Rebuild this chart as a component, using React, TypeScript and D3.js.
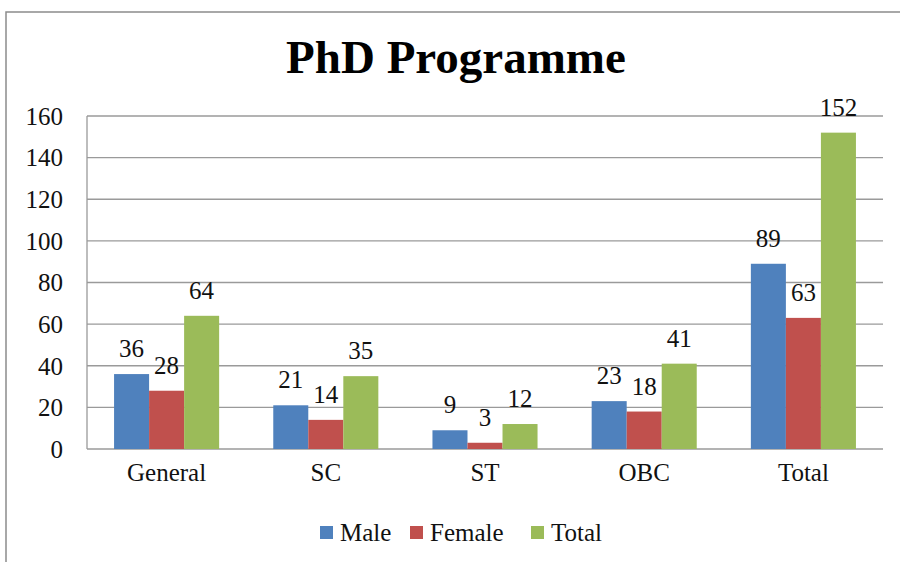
import * as d3 from "d3";

const categories = ["General", "SC", "ST", "OBC", "Total"];
const seriesNames = ["Male", "Female", "Total"];
const maleValues = [36, 21, 9, 23, 89];
const femaleValues = [28, 14, 3, 18, 63];
const totalValues = [64, 35, 12, 41, 152];
const yTicks = [0, 20, 40, 60, 80, 100, 120, 140, 160];
const colors = ["#4F81BD", "#C0504D", "#9BBB59"];

const serif = "'Liberation Serif', 'Times New Roman', serif";

export default function App() {
  const width = 900;
  const height = 562;
  const plot = { left: 87, right: 883, top: 116, bottom: 449 };

  const series = [maleValues, femaleValues, totalValues];

  const x = d3
    .scaleBand<string>()
    .domain(categories)
    .range([plot.left, plot.right])
    .paddingInner(0.34)
    .paddingOuter(0.17);

  const xInner = d3
    .scaleBand<string>()
    .domain(seriesNames)
    .range([0, x.bandwidth()])
    .padding(0);

  const y = d3.scaleLinear().domain([0, 160]).range([plot.bottom, plot.top]);

  const legendX = [320, 410, 531];

  return (
    <svg
      width={width}
      height={height}
      style={{ position: "absolute", left: 0, top: 0, background: "#fff" }}
    >
      <rect x={6} y={12} width={1000} height={700} fill="#fff" stroke="#8c8c8c" strokeWidth={1.5} />

      <text
        x={456}
        y={73}
        textAnchor="middle"
        fontFamily={serif}
        fontWeight="bold"
        fontSize={47}
        fill="#000"
      >
        PhD Programme
      </text>

      {/* gridlines */}
      {yTicks.map((t) => (
        <line
          key={"g" + t}
          x1={plot.left}
          x2={plot.right}
          y1={y(t)}
          y2={y(t)}
          stroke="#9a9a9a"
          strokeWidth={1.3}
        />
      ))}
      <line x1={plot.left} x2={plot.left} y1={plot.top} y2={plot.bottom} stroke="#9a9a9a" strokeWidth={1.3} />

      {yTicks.map((t) => (
        <text
          key={"t" + t}
          x={63}
          y={y(t)}
          dy="0.35em"
          textAnchor="end"
          fontFamily={serif}
          fontSize={25}
          fill="#111"
        >
          {t}
        </text>
      ))}

      {categories.map((c, i) => (
        <g key={c} transform={`translate(${x(c)},0)`}>
          {series.map((vals, s) => (
            <g key={seriesNames[s]}>
              <rect
                x={xInner(seriesNames[s])}
                y={y(vals[i])}
                width={xInner.bandwidth()}
                height={plot.bottom - y(vals[i])}
                fill={colors[s]}
              />
              <text
                x={(xInner(seriesNames[s]) || 0) + xInner.bandwidth() / 2}
                y={y(vals[i]) - 17}
                textAnchor="middle"
                fontFamily={serif}
                fontSize={25}
                fill="#111"
              >
                {vals[i]}
              </text>
            </g>
          ))}
          <text
            x={x.bandwidth() / 2}
            y={481}
            textAnchor="middle"
            fontFamily={serif}
            fontSize={25}
            fill="#111"
          >
            {c}
          </text>
        </g>
      ))}

      {seriesNames.map((n, s) => (
        <g key={"l" + n}>
          <rect x={legendX[s]} y={526} width={13} height={13} fill={colors[s]} />
          <text x={legendX[s] + 20} y={541} fontFamily={serif} fontSize={25} fill="#111">
            {n}
          </text>
        </g>
      ))}
    </svg>
  );
}
